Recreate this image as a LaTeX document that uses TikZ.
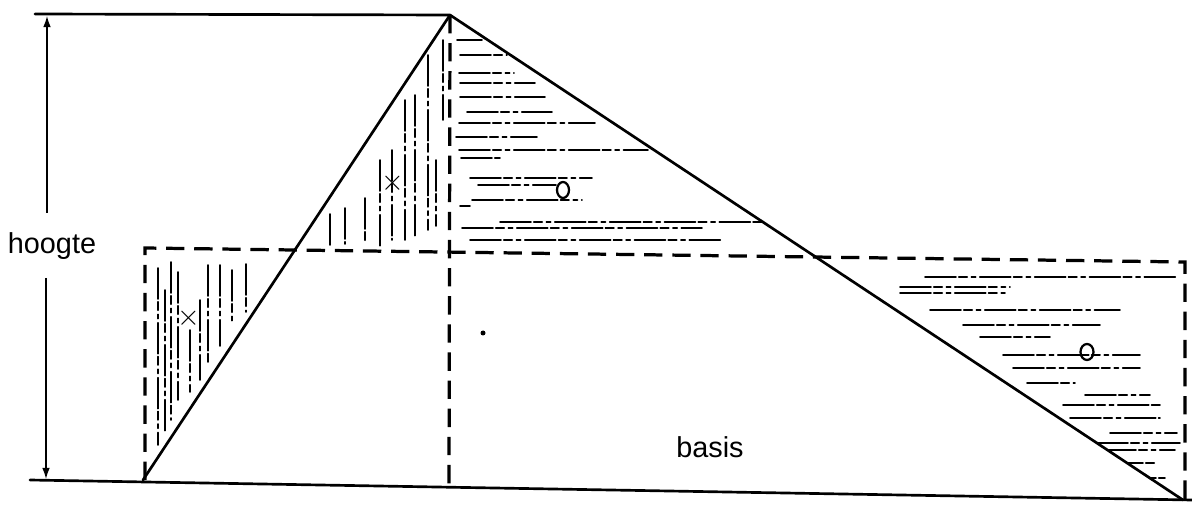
\documentclass[tikz,border=0pt]{standalone}
\usepackage{fontspec}
\setmainfont{Liberation Sans}
\usetikzlibrary{arrows.meta,calc}
\tikzset{
    % Outline of the triangle and the base lines
    solidline/.style={
        draw=black, line width=1.9pt, line cap=round, line join=round
    },
    % Dashed rectangle and height line
    dashline/.style={
        draw=black, line width=2.3pt, dash pattern=on 13pt off 7pt
    },
    % Height arrow
    dimarrow/.style={
        draw=black, line width=0.9pt, -{Latex[length=8pt,width=5.5pt]}
    },
    % Hand hatching
    hatch/.style={
        draw=black, line width=1.2pt, line cap=round,
        dash pattern=on 22pt off 2pt on 6pt off 3pt on 3pt off 3pt
    },
    % Text labels
    label/.style={
        draw=none, fill=none, inner sep=0pt,
        font=\fontsize{20.5}{24}\selectfont
    },
    % Small marks in the hatched parts
    crossmark/.style={
        draw=none, inner sep=0pt, font=\fontsize{20}{20}\selectfont
    },
    ringmark/.style={
        draw=black, line width=1.6pt
    }
}
\begin{document}
\begin{tikzpicture}[x=0.025cm, y=-0.025cm]
\useasboundingbox (0,0) rectangle (1192,511);

% Corner points
\coordinate (A) at (143,480);
\coordinate (T) at (450,15);
\coordinate (B) at (1183,500);
\coordinate (topL) at (35,14);
\coordinate (botL) at (30,480);
\coordinate (botR) at (1192,500);
\coordinate (foot) at (449,490);
\coordinate (rTL) at (145,248);
\coordinate (rBL) at (145,480);
\coordinate (rTR) at (1185,262);
\coordinate (rBR) at (1185,500);
\coordinate (P) at (296,250);
\coordinate (Q) at (823,258);
\coordinate (M) at (449,252);

% Hatching, left half (vertical strokes)
\begin{scope}
\clip (rTL) -- (P) -- (A) -- cycle;
\foreach \x/\ya/\yb in {158/268/445, 165/290/432, 171/262/420, 178/272/400,
    190/330/392, 200/300/380, 208/265/362, 220/265/346, 232/270/322, 246/264/312}
    \draw[hatch] (\x,\ya) -- (\x,\yb);
\end{scope}
\begin{scope}
\clip (P) -- (T) -- (M) -- cycle;
\foreach \x/\ya/\yb in {330/214/246, 345/208/244, 365/198/242, 380/160/246,
    392/150/240, 405/100/240, 415/95/236, 428/55/230, 436/160/226, 443/40/120}
    \draw[hatch] (\x,\ya) -- (\x,\yb);
\end{scope}

% Hatching, right half (horizontal strokes)
\begin{scope}
\clip (M) -- (T) -- (Q) -- cycle;
\foreach \y/\xa/\xb in {40/457/482, 55/460/507, 73/459/514, 83/460/535,
    97/460/545, 112/467/552, 123/459/595, 137/456/537, 150/459/648,
    158/461/500, 178/470/592, 185/478/556, 200/472/582, 206/460/470,
    222/500/765, 228/462/702, 240/470/722}
    \draw[hatch] (\xa,\y) -- (\xb,\y);
\end{scope}
\begin{scope}
\clip (Q) -- (rTR) -- (rBR) -- (B) -- cycle;
\foreach \y/\xa/\xb in {277/925/1177, 287/900/1010, 293/900/1005,
    310/930/1120, 325/963/1100, 337/980/1050, 355/1003/1140,
    368/1013/1140, 383/1027/1075, 395/1085/1150, 405/1063/1160,
    418/1070/1160, 433/1110/1177, 443/1097/1180, 450/1105/1175,
    463/1112/1155, 478/1125/1165, 490/1137/1168, 500/1163/1180}
    \draw[hatch] (\xa,\y) -- (\xb,\y);
\end{scope}

% Dashed rectangle and height of the triangle
\draw[dashline] (rBL) -- (rTL) -- (rTR) -- (rBR);
\draw[dashline] (T) -- (foot);

% Triangle and base lines
\draw[solidline] (topL) -- (T);
\draw[solidline] (botL) -- (botR);
\draw[solidline] (A) -- (T) -- (B);

% Height arrow with label
\coordinate (htop) at (47,16);
\coordinate (hbot) at (46,479);
\coordinate (hgapT) at (47,213);
\coordinate (hgapB) at (46,278);
\draw[dimarrow] (hgapT) -- (htop);
\draw[dimarrow] (hgapB) -- (hbot);
\node[label] (hoogte) at (52,246) {hoogte};
\node[label] (basis) at (710,447) {basis};

% Marks
\node[crossmark] (crossL) at (189,318) {$\times$};
\node[crossmark] (crossU) at (393,183) {$\times$};
\draw[ringmark] (563,190) ellipse (6 and 8);
\draw[ringmark] (1087,352) ellipse (6.5 and 8);
\fill (483,333) circle (2.5);

\end{tikzpicture}
\end{document}
